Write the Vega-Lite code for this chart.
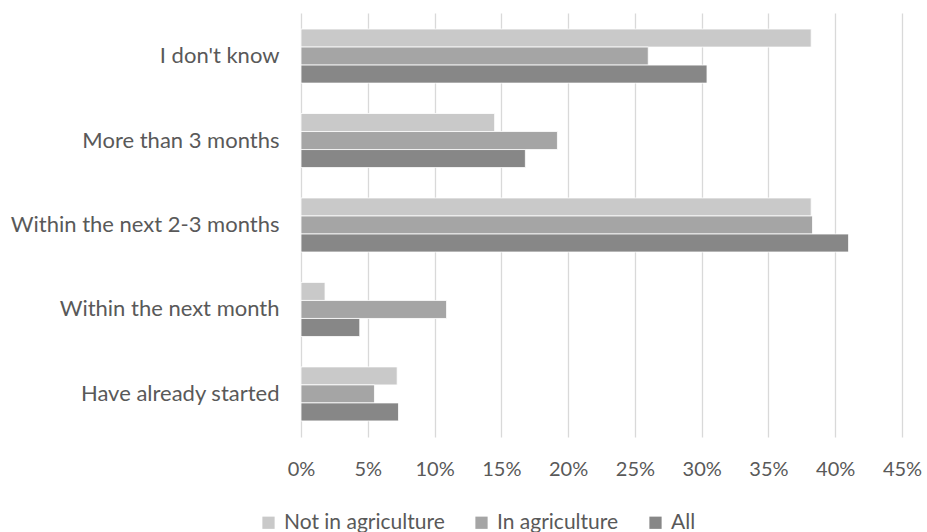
{
  "$schema": "https://vega.github.io/schema/vega-lite/v6.json",
  "autosize": {"type": "none"},
  "width": 601,
  "height": 424,
  "padding": {"left": 301, "top": 13, "right": 25, "bottom": 95},
  "background": "white",
  "config": {
    "view": {"stroke": null},
    "font": "Lato",
    "axis": {"labelFont": "Lato", "labelColor": "#595959"}
  },
  "data": {
    "values": [
      {"answer": "I don't know", "group": "Not in agriculture", "k": 1, "share": 0.382},
      {"answer": "I don't know", "group": "In agriculture", "k": 2, "share": 0.260},
      {"answer": "I don't know", "group": "All", "k": 3, "share": 0.304},
      {"answer": "More than 3 months", "group": "Not in agriculture", "k": 1, "share": 0.145},
      {"answer": "More than 3 months", "group": "In agriculture", "k": 2, "share": 0.192},
      {"answer": "More than 3 months", "group": "All", "k": 3, "share": 0.168},
      {"answer": "Within the next 2-3 months", "group": "Not in agriculture", "k": 1, "share": 0.382},
      {"answer": "Within the next 2-3 months", "group": "In agriculture", "k": 2, "share": 0.383},
      {"answer": "Within the next 2-3 months", "group": "All", "k": 3, "share": 0.410},
      {"answer": "Within the next month", "group": "Not in agriculture", "k": 1, "share": 0.018},
      {"answer": "Within the next month", "group": "In agriculture", "k": 2, "share": 0.109},
      {"answer": "Within the next month", "group": "All", "k": 3, "share": 0.044},
      {"answer": "Have already started", "group": "Not in agriculture", "k": 1, "share": 0.072},
      {"answer": "Have already started", "group": "In agriculture", "k": 2, "share": 0.055},
      {"answer": "Have already started", "group": "All", "k": 3, "share": 0.073}
    ]
  },
  "mark": {"type": "bar", "stroke": "#ffffff", "strokeWidth": 0.8},
  "encoding": {
    "y": {
      "field": "answer",
      "type": "nominal",
      "sort": ["I don't know", "More than 3 months", "Within the next 2-3 months", "Within the next month", "Have already started"],
      "scale": {"paddingInner": 0.36, "paddingOuter": 0.19},
      "axis": {"title": null, "domain": false, "ticks": false, "labelPadding": 22, "labelFontSize": 22, "labelLimit": 400, "grid": false}
    },
    "yOffset": {"field": "k", "type": "ordinal", "scale": {"paddingInner": 0}},
    "x": {
      "field": "share",
      "type": "quantitative",
      "scale": {"domain": [0, 0.45], "nice": false},
      "axis": {
        "title": null,
        "format": ".0%",
        "values": [0, 0.05, 0.1, 0.15, 0.2, 0.25, 0.3, 0.35, 0.4, 0.45],
        "domain": false,
        "ticks": false,
        "grid": true,
        "gridColor": "#d9d9d9",
        "gridWidth": 1.3,
        "labelFontSize": 20,
        "labelPadding": 22,
        "labelFlush": false
      }
    },
    "color": {
      "field": "group",
      "type": "nominal",
      "sort": ["Not in agriculture", "In agriculture", "All"],
      "scale": {"domain": ["Not in agriculture", "In agriculture", "All"], "range": ["#c9c9c9", "#a5a5a5", "#878787"]},
      "legend": {
        "title": null,
        "orient": "none",
        "direction": "horizontal",
        "legendX": -43,
        "legendY": 499,
        "symbolType": "square",
        "symbolSize": 150,
        "symbolStrokeWidth": 0,
        "labelFont": "Lato",
        "labelFontSize": 21,
        "labelLimit": 300,
        "labelColor": "#595959",
        "labelOffset": 5,
        "columnPadding": 26
      }
    }
  }
}
